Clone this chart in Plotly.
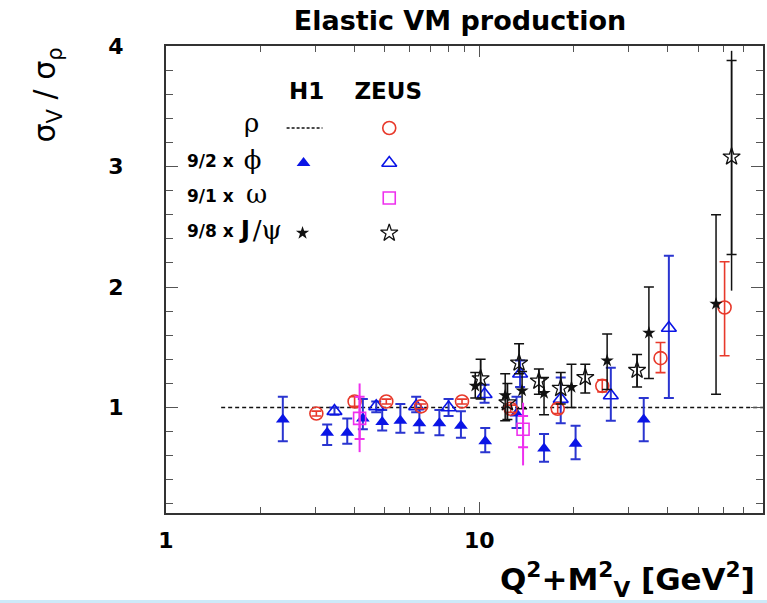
import numpy as np
import plotly.graph_objects as go

# ---- data: ratio sigma_V / sigma_rho (VM cross sections scaled by SU(4) factors) ----
# H1 phi (9/2 x), filled triangles
h1_phi_x = [2.36, 3.27, 3.79, 4.25, 4.90, 5.60, 6.44, 7.46, 8.74, 10.45, 13.15, 16.1, 20.3, 33.5]
h1_phi_y = [0.90, 0.79, 0.79, 0.91, 0.88, 0.89, 0.87, 0.87, 0.85, 0.72, 0.95, 0.66, 0.70, 0.90]
h1_phi_up = [0.19, 0.07, 0.12, 0.16, 0.10, 0.14, 0.12, 0.11, 0.12, 0.11, 0.14, 0.12, 0.15, 0.18]
h1_phi_dn = [0.18, 0.10, 0.09, 0.09, 0.07, 0.10, 0.08, 0.10, 0.10, 0.09, 0.12, 0.11, 0.13, 0.18]

# ZEUS phi (9/2 x), open triangles
zeus_phi_x = [3.45, 4.69, 6.29, 7.98, 10.4, 13.5, 18.2, 26.3, 40.3]
zeus_phi_y = [0.97, 1.01, 1.01, 1.00, 1.11, 1.28, 1.07, 1.10, 1.66]
zeus_phi_up = [0.03, 0.04, 0.08, 0.07, 0.08, 0.11, 0.18, 0.23, 0.60]
zeus_phi_dn = [0.03, 0.05, 0.05, 0.07, 0.07, 0.11, 0.20, 0.21, 0.58]

# ZEUS rho, open circles
zeus_rho_x = [3.02, 4.00, 5.05, 6.52, 8.81, 12.6, 17.8, 24.7, 37.9, 60.7]
zeus_rho_y = [0.95, 1.05, 1.05, 1.01, 1.05, 0.99, 0.99, 1.18, 1.41, 1.83]
zeus_rho_up = [0.02, 0.04, 0.02, 0.02, 0.02, 0.03, 0.04, 0.05, 0.13, 0.38]
zeus_rho_dn = [0.02, 0.04, 0.02, 0.02, 0.02, 0.03, 0.04, 0.05, 0.12, 0.40]

# ZEUS omega (9/1 x), open squares: statistical and total errors
zeus_omega_x = [4.15, 13.8]
zeus_omega_y = [0.91, 0.82]
zeus_omega_up = [0.18, 0.11]
zeus_omega_dn = [0.17, 0.15]
zeus_omega_tot_up = [0.29, 0.22]
zeus_omega_tot_dn = [0.28, 0.30]

# H1 J/psi (9/8 x), filled stars
h1_jpsi_x = [9.71, 12.1, 13.7, 16.1, 19.7, 25.6, 34.8, 57.0]
h1_jpsi_y = [1.18, 1.10, 1.14, 1.12, 1.17, 1.39, 1.62, 1.86]
h1_jpsi_up = [0.11, 0.18, 0.16, 0.13, 0.19, 0.22, 0.38, 0.74]
h1_jpsi_dn = [0.10, 0.21, 0.15, 0.18, 0.17, 0.24, 0.38, 0.75]

# ZEUS J/psi (9/8 x), open stars: statistical and total errors
zeus_jpsi_x = [10.1, 12.3, 13.4, 15.5, 18.2, 21.8, 31.9, 63.9]
zeus_jpsi_y = [1.24, 1.04, 1.37, 1.22, 1.16, 1.25, 1.31, 3.08]
zeus_jpsi_up = [0.16, 0.16, 0.16, 0.10, 0.13, 0.11, 0.13, 0.80]
zeus_jpsi_dn = [0.17, 0.14, 0.09, 0.11, 0.13, 0.13, 0.14, 0.81]
zeus_jpsi_tot_up = [0.16, 0.16, 0.16, 0.10, 0.13, 0.11, 0.13, 0.88]
zeus_jpsi_tot_dn = [0.17, 0.14, 0.09, 0.11, 0.13, 0.13, 0.14, 1.11]

# H1 rho reference level
h1_rho_x = [1.5, 80.5]
h1_rho_y = [1.0, 1.0]

x_ticks = [1, 10]
x_ticktext = ["1", "10"]
y_ticks = [1, 2, 3, 4]
y_ticktext = ["1", "2", "3", "4"]

# ---- styles ----
RED = "#e8392b"
BLUE = "#0a14e6"
BLUE_BAR = "#2a35d0"
MAGENTA = "#ee30ee"
BLACK = "#111111"
SANS = "DejaVu Sans"
SERIF = "DejaVu Serif"

W, H = 767, 603
L, R, T, B = 166, 2, 46, 90
PW, PH = W - L - R, H - T - B


def fx(px):
    return (px - L) / PW


def fy(py):
    return (H - B - py) / PH


fig = go.Figure()


def add_points(x, y, up, dn, marker, bar_color, bar_width, tot_up=None, tot_dn=None):
    if tot_up is not None:
        fig.add_trace(go.Scatter(
            x=x, y=y, mode="markers", marker=dict(size=1, opacity=0),
            error_y=dict(type="data", symmetric=False, array=tot_up, arrayminus=tot_dn,
                         color=bar_color, thickness=bar_width, width=0),
            showlegend=False, hoverinfo="skip"))
    fig.add_trace(go.Scatter(
        x=x, y=y, mode="markers", marker=marker,
        error_y=dict(type="data", symmetric=False, array=up, arrayminus=dn,
                     color=bar_color, thickness=bar_width, width=5),
        showlegend=False))


m_h1_phi = dict(symbol="triangle-up", size=12, color=BLUE)
m_zeus_phi = dict(symbol="triangle-up-open", size=13, color=BLUE, line=dict(width=1.6, color=BLUE))
m_zeus_rho = dict(symbol="circle-open", size=13, color=RED, line=dict(width=1.6, color=RED))
m_zeus_omega = dict(symbol="square-open", size=12, color=MAGENTA, line=dict(width=1.6, color=MAGENTA))
m_h1_jpsi = dict(symbol="star", size=10, color=BLACK)
m_zeus_jpsi = dict(symbol="star-open", size=13, color=BLACK, line=dict(width=1.3, color=BLACK))

# H1 rho reference line
fig.add_trace(go.Scatter(x=h1_rho_x, y=h1_rho_y, mode="lines",
                         line=dict(color=BLACK, width=1.5, dash="4px,3px"),
                         showlegend=False, hoverinfo="skip"))

add_points(h1_phi_x, h1_phi_y, h1_phi_up, h1_phi_dn, m_h1_phi, BLUE_BAR, 2)
add_points(zeus_phi_x, zeus_phi_y, zeus_phi_up, zeus_phi_dn, m_zeus_phi, BLUE_BAR, 2)
add_points(zeus_rho_x, zeus_rho_y, zeus_rho_up, zeus_rho_dn, m_zeus_rho, RED, 1.6)
add_points(h1_jpsi_x, h1_jpsi_y, h1_jpsi_up, h1_jpsi_dn, m_h1_jpsi, BLACK, 1.5)
add_points(zeus_jpsi_x, zeus_jpsi_y, zeus_jpsi_up, zeus_jpsi_dn, m_zeus_jpsi, BLACK, 1.5,
           zeus_jpsi_tot_up, zeus_jpsi_tot_dn)
add_points(zeus_omega_x, zeus_omega_y, zeus_omega_up, zeus_omega_dn, m_zeus_omega, MAGENTA, 2,
           zeus_omega_tot_up, zeus_omega_tot_dn)

# ---- legend block drawn on an overlay axis spanning the plot area ----
def leg(xp, yp, marker=None, line=None):
    if line is not None:
        fig.add_trace(go.Scatter(x=[fx(xp[0]), fx(xp[1])], y=[fy(yp), fy(yp)], mode="lines",
                                 line=line, xaxis="x2", yaxis="y2",
                                 showlegend=False, hoverinfo="skip"))
    else:
        fig.add_trace(go.Scatter(x=[fx(xp)], y=[fy(yp)], mode="markers", marker=marker,
                                 xaxis="x2", yaxis="y2", showlegend=False, hoverinfo="skip"))


def leg_text(t, xp, yp, size, family=SANS, pos="middle center"):
    fig.add_trace(go.Scatter(x=[fx(xp)], y=[fy(yp)], mode="text", text=[t], textposition=pos,
                             textfont=dict(family=family, size=size, color="black"),
                             xaxis="x2", yaxis="y2", showlegend=False, hoverinfo="skip"))


leg((287, 323), 128, line=dict(color=BLACK, width=1.5, dash="3px,2px"))
leg(390, 128, marker=m_zeus_rho)
leg(304, 163, marker=m_h1_phi)
leg(390, 163, marker=m_zeus_phi)
leg(390, 198, marker=m_zeus_omega)
leg(303, 233, marker=m_h1_jpsi)
leg(390, 233, marker=m_zeus_jpsi)

leg_text("<b>H1</b>", 307, 93, 23)
leg_text("<b>ZEUS</b>", 389, 93, 23)
leg_text("ρ", 252, 125, 26, family=SERIF)
leg_text("<b>9/2 x</b>", 234, 163, 17, pos="middle left")
leg_text("ϕ", 253, 162, 26, family=SERIF)
leg_text("<b>9/1 x</b>", 234, 198, 17, pos="middle left")
leg_text("ω", 257, 196, 26, family=SERIF)
leg_text("<b>9/8 x</b>", 234, 233, 17, pos="middle left")
leg_text("<b>J</b>", 241, 232, 25, pos="middle right")
leg_text("/ψ", 253, 232, 26, family=SERIF, pos="middle right")

# axis titles
annotations = [
    dict(text="σ<sub>V</sub> / σ<sub>ρ</sub>", x=fx(46), y=fy(95), xref="paper", yref="paper",
         xanchor="center", yanchor="middle", textangle=-90, showarrow=False,
         font=dict(family=SANS, size=30, color="black")),
    dict(text="<b>Q<sup>2</sup>+M<sup>2</sup><sub>V</sub> [GeV<sup>2</sup>]</b>", x=fx(759), y=fy(555),
         xref="paper", yref="paper", xanchor="right", yanchor="top", showarrow=False,
         font=dict(family=SANS, size=31, color="black")),
]

axis_line = dict(showline=True, linewidth=2, linecolor="#333333", mirror="allticks",
                 ticks="inside", tickcolor="#555555", tickwidth=1, showgrid=False, zeroline=False,
                 tickfont=dict(family=SANS, size=22, color="black", weight="bold"))

fig.update_layout(
    width=W, height=H,
    margin=dict(l=L, r=R, t=T, b=B),
    paper_bgcolor="white", plot_bgcolor="white",
    title=dict(text="Elastic VM production", x=460 / W, xanchor="center",
               y=1 - 21 / H, yanchor="middle", xref="container", yref="container",
               font=dict(family=SANS, size=27, color="black", weight="bold")),
    xaxis=dict(type="log", range=[0, np.log10(80.5)], tickvals=x_ticks, ticktext=x_ticktext,
               ticklen=11, ticklabelstandoff=7,
               minor=dict(tickvals=[2, 3, 4, 5, 6, 7, 8, 9, 20, 30, 40, 50, 60, 70, 80],
                          ticklen=6, ticks="inside", tickcolor="#555555", tickwidth=1),
               **axis_line),
    yaxis=dict(range=[0.125, 4.0], tickvals=y_ticks, ticktext=y_ticktext,
               ticklen=12, ticklabelstandoff=36,
               minor=dict(tickvals=[v / 5 for v in range(1, 20) if v % 5 != 0],
                          ticklen=7, ticks="inside", tickcolor="#555555", tickwidth=1),
               **axis_line),
    xaxis2=dict(overlaying="x", range=[0, 1], visible=False, anchor="y2"),
    yaxis2=dict(overlaying="y", range=[0, 1], visible=False, anchor="x2"),
    annotations=annotations,
    shapes=[dict(type="rect", xref="paper", yref="paper", x0=-0.4, x1=1.1,
                 y0=fy(600), y1=fy(606), fillcolor="#cdeaf9", line=dict(width=0), layer="above")],
    showlegend=False,
)

fig.write_html("out.html")
